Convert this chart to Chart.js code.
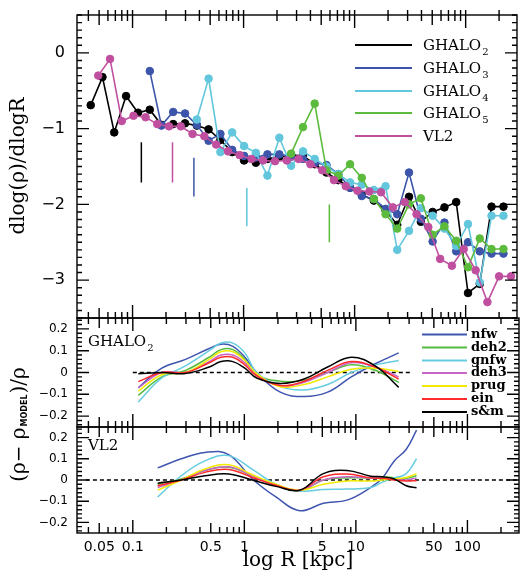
<!DOCTYPE html>
<html>
<head>
<meta charset="utf-8">
<script src="https://cdn.jsdelivr.net/npm/chart.js@4.4.1/dist/chart.umd.min.js"></script>
<style>
  body { margin: 0; background: #fff; }
  #wrap { position: relative; width: 522px; height: 573px; }
  #wrap canvas { position: absolute; left: 0; top: 0; }
</style>
</head>
<body>
<div id="wrap">
  <canvas id="top" width="522" height="573"></canvas>
  <canvas id="mid" width="522" height="573"></canvas>
  <canvas id="bot" width="522" height="573"></canvas>
</div>
<script>
// radial bins (kpc) of the GHALO runs and of VL2
const ghaloR = [0.042, 0.0536, 0.0684, 0.0874, 0.112, 0.143, 0.182, 0.232, 0.297, 0.379, 0.484, 0.618, 0.789, 1.01, 1.29, 1.64, 2.10, 2.68, 3.43, 4.37, 5.58, 7.13, 9.10, 11.6, 14.9, 19.0, 24.2, 30.9, 39.5, 50.4, 64.4, 82.2, 105, 134, 171, 219];
const vl2R = [0.0491, 0.0627, 0.080, 0.102, 0.131, 0.167, 0.213, 0.272, 0.347, 0.443, 0.566, 0.723, 0.923, 1.18, 1.50, 1.92, 2.45, 3.13, 4.00, 5.11, 6.52, 8.33, 10.6, 13.6, 17.3, 22.1, 28.3, 36.1, 46.1, 58.9, 75.2, 96.1, 123, 157, 200, 256];

// logarithmic slopes (top panel)
const ghalo2 = [-0.69, -0.32, -1.05, -0.57, -0.79, -0.75, -0.95, -0.94, -0.93, -0.96, -1.01, -1.15, -1.31, -1.42, -1.45, -1.40, -1.37, -1.35, -1.36, -1.47, -1.58, -1.68, -1.78, -1.87, -1.95, -2.08, -2.27, -1.90, -2.23, -2.10, -2.04, -1.97, -3.17, -3.05, -2.03, -2.03];
const ghalo3 = [-0.24, -0.96, -0.78, -0.80, -0.95, -1.16, -1.07, -1.28, -1.36, -1.38, -1.34, -1.34, -1.37, -1.40, -1.45, -1.48, -1.60, -1.78, -1.89, -1.93, -2.06, -2.13, -1.58, -2.19, -2.49, -2.24, -2.62, -2.50, -2.62, -2.65, -2.65];
const ghalo4 = [-0.88, -0.34, -1.31, -1.05, -1.23, -1.32, -1.62, -1.12, -1.49, -1.30, -1.40, -1.50, -1.60, -1.71, -1.74, -1.81, -1.76, -2.60, -2.35, -2.05, -2.15, -2.32, -2.55, -2.26, -3.03, -2.15, -2.15];
const ghalo5 = [-1.33, -0.98, -0.67, -1.55, -1.62, -1.47, -1.65, -1.93, -2.13, -2.32, -2.00, -1.92, -2.40, -2.29, -2.48, -2.83, -2.45, -2.59, -2.59];
const vl2 = [-0.30, -0.08, -0.90, -0.83, -0.85, -0.94, -0.97, -0.97, -1.07, -1.10, -1.21, -1.30, -1.35, -1.40, -1.42, -1.43, -1.42, -1.40, -1.47, -1.55, -1.68, -1.76, -1.82, -1.83, -1.84, -2.04, -1.97, -2.13, -2.30, -2.72, -2.81, -2.59, -2.87, -3.29, -2.95, -2.95];

const topNames = ['GHALO', 'GHALO', 'GHALO', 'GHALO', 'VL2'];
const topSubs = ['2', '3', '4', '5', ''];
const topColors = ['#000000', '#3c55aa', '#62c6dc', '#5cbb3c', '#c04fa0'];
const topValues = [ghalo2, ghalo3, ghalo4, ghalo5, vl2];
const topGrids = [ghaloR, ghaloR, ghaloR, ghaloR, vl2R];
const topStart = [0, 5, 9, 17, 0];

// vertical marks
const markR = [0.12, 0.229, 0.357, 1.07, 5.92];
const markTop = [-1.18, -1.18, -1.385, -1.785, -2.0];
const markBottom = [-1.71, -1.71, -1.895, -2.29, -2.5];
const markColors = ['#000000', '#c04fa0', '#3c55aa', '#62c6dc', '#5cbb3c'];

// residuals
const resNames = ['nfw', 'deh2', 'gnfw', 'deh3', 'prug', 'ein', 's&m'];
const resColors = ['#3f55b0', '#55bb3f', '#66cce0', '#c766c8', '#f2ea00', '#ff2a2a', '#000000'];

const resR1 = [0.112, 0.182, 0.297, 0.484, 0.618, 0.789, 1.01, 1.29, 2.10, 3.43, 5.58, 9.10, 14.9, 24.2];
const resG2 = [
  [-0.07, 0.02, 0.06, 0.11, 0.13, 0.12, 0.07, 0.0, -0.09, -0.11, -0.09, -0.02, 0.04, 0.09],
  [-0.105, -0.02, 0.01, 0.07, 0.105, 0.105, 0.06, -0.01, -0.04, -0.035, 0.0, 0.035, 0.01, -0.045],
  [-0.135, -0.025, 0.03, 0.10, 0.135, 0.135, 0.09, 0.0, -0.065, -0.08, -0.055, 0.0, 0.035, 0.055],
  [-0.07, 0.0, 0.0, 0.05, 0.08, 0.08, 0.045, -0.01, -0.06, -0.045, 0.0, 0.045, 0.025, -0.02],
  [-0.085, -0.01, 0.0, 0.06, 0.095, 0.095, 0.055, -0.005, -0.065, -0.055, -0.02, 0.015, 0.02, 0.005],
  [-0.042, 0.0, 0.0, 0.045, 0.07, 0.07, 0.035, -0.015, -0.06, -0.04, 0.01, 0.05, 0.025, -0.03],
  [-0.006, 0.0, -0.005, 0.025, 0.05, 0.05, 0.02, -0.025, -0.05, -0.03, 0.025, 0.07, 0.03, -0.068]
];

const resR2 = [0.167, 0.272, 0.443, 0.723, 1.18, 1.92, 3.13, 5.11, 8.33, 13.6, 17.3, 22.1, 28.3, 35.0];
const resVL2 = [
  [0.057, 0.10, 0.13, 0.12, 0.005, -0.08, -0.145, -0.11, -0.095, -0.035, 0.01, 0.09, 0.145, 0.235],
  [-0.02, 0.005, 0.045, 0.06, 0.02, -0.025, -0.05, 0.0, 0.01, 0.01, 0.015, 0.01, 0.008, 0.02],
  [-0.08, 0.02, 0.09, 0.115, 0.05, -0.02, -0.052, -0.045, -0.043, -0.035, -0.01, 0.01, 0.03, 0.10],
  [-0.035, 0.0, 0.045, 0.062, 0.02, -0.025, -0.048, 0.0, 0.015, 0.01, 0.01, 0.005, 0.0, 0.01],
  [-0.048, 0.0, 0.052, 0.072, 0.025, -0.02, -0.048, -0.02, -0.005, -0.005, 0.0, 0.005, 0.012, 0.03],
  [-0.027, 0.0, 0.036, 0.05, 0.012, -0.025, -0.048, 0.015, 0.028, 0.01, 0.008, 0.0, -0.005, -0.003],
  [-0.015, 0.0, 0.02, 0.028, 0.0, -0.03, -0.048, 0.03, 0.045, 0.018, 0.015, 0.005, -0.027, -0.037]
];

const zeroR1 = [0.1, 32];
const zeroR2 = [0.038, 285];

// axes
const xMin = 0.0316, xMax = 290;
const xTickVals = [0.05, 0.1, 0.5, 1, 5, 10, 50, 100];
const topYTicks = [0, -1, -2, -3];
const resYTicks = [0.2, 0.1, 0, -0.1, -0.2];

function pts(xs, ys, from) {
  return ys.map((y, i) => ({ x: xs[i + from], y: y }));
}

function fmtTick(v) {
  if (v === 0) return '0';
  return (v < 0 ? '\u2212' : '') + Math.abs(v);
}

// frame with inward ticks on all four sides
function drawFrame(chart, cfg) {
  const ctx = chart.ctx, a = chart.chartArea;
  const xs = chart.scales.x, ys = chart.scales.y;
  ctx.save();
  ctx.strokeStyle = '#000';
  ctx.lineWidth = 1.4;
  ctx.strokeRect(a.left, a.top, a.right - a.left, a.bottom - a.top);
  ctx.beginPath();
  for (let d = -2; d <= 2; d++) {
    for (let m = 1; m <= 9; m++) {
      const v = m * Math.pow(10, d);
      if (v < xMin || v > xMax) continue;
      const px = xs.getPixelForValue(v);
      const len = m === 1 ? 13 : (m === 5 ? 10 : 6);
      ctx.moveTo(px, a.top - (cfg.topOut ? 5 : 0));
      ctx.lineTo(px, a.top + len);
      ctx.moveTo(px, a.bottom);
      ctx.lineTo(px, a.bottom - len);
    }
  }
  const i0 = Math.ceil(cfg.yMin / cfg.minor - 1e-6), i1 = Math.floor(cfg.yMax / cfg.minor + 1e-6);
  for (let i = i0; i <= i1; i++) {
    const v = i * cfg.minor;
    const py = ys.getPixelForValue(v);
    const r = v / cfg.major;
    const len = Math.abs(r - Math.round(r)) < 1e-6 ? 12 : 5;
    ctx.moveTo(a.left, py);
    ctx.lineTo(a.left + len, py);
    ctx.moveTo(a.right, py);
    ctx.lineTo(a.right - len, py);
  }
  ctx.stroke();
  ctx.restore();
}

function subText(ctx, x, y, main, sub, font, subFont, dy) {
  ctx.font = font;
  ctx.fillText(main, x, y);
  if (sub) {
    const w = ctx.measureText(main).width;
    ctx.font = subFont;
    ctx.fillText(sub, x + w + 1, y + dy);
  }
}

function makeChart(id, cfg) {
  return new Chart(document.getElementById(id), {
    type: 'line',
    data: { datasets: cfg.datasets },
    options: {
      responsive: false,
      animation: false,
      layout: { padding: { left: 0, right: 3, top: cfg.top, bottom: cfg.bottom } },
      plugins: { legend: { display: false }, tooltip: { enabled: false } },
      scales: {
        x: {
          type: 'logarithmic', min: xMin, max: xMax,
          display: cfg.showX,
          grid: { display: false, drawTicks: false }, border: { display: false },
          afterBuildTicks: s => { s.ticks = xTickVals.map(v => ({ value: v })); },
          afterFit: s => {
            s.height = cfg.showX ? 40 : 0;
            s.paddingLeft = 0; s.paddingRight = 0;
          },
          ticks: {
            autoSkip: false, maxRotation: 0, padding: 6, color: '#000',
            font: { family: 'DejaVu Sans', size: 14 },
            callback: v => String(v)
          },
          title: {
            display: true, text: 'log R [kpc]', color: '#000', padding: 0,
            font: { family: 'DejaVu Serif', size: 20 }
          }
        },
        y: {
          min: cfg.yMin, max: cfg.yMax,
          grid: { display: false, drawTicks: false }, border: { display: false },
          afterBuildTicks: s => { s.ticks = cfg.yTicks.map(v => ({ value: v })); },
          afterFit: s => {
            s.width = 77;
            s.paddingTop = 0; s.paddingBottom = 0;
          },
          ticks: {
            autoSkip: false, padding: cfg.yPad, color: '#000',
            font: { family: 'DejaVu Sans', size: cfg.yFont },
            callback: fmtTick
          }
        }
      }
    },
    plugins: [{
      id: 'frame_' + id,
      afterDatasetsDraw(chart) {
        drawFrame(chart, cfg);
        cfg.draw(chart.ctx, chart);
      }
    }]
  });
}

// ---- top panel ----
const topSets = [];
topValues.forEach((vals, i) => {
  topSets.push({
    data: pts(topGrids[i], vals, topStart[i]),
    borderColor: topColors[i], backgroundColor: topColors[i],
    pointBackgroundColor: topColors[i], pointBorderColor: topColors[i],
    borderWidth: 1.6, pointRadius: 3.8, pointBorderWidth: 1,
    tension: 0, order: topValues.length - i
  });
});
markR.forEach((r, i) => {
  topSets.push({
    data: [{ x: r, y: markTop[i] }, { x: r, y: markBottom[i] }],
    borderColor: markColors[i], borderWidth: 1.5, pointRadius: 0, order: 10
  });
});

makeChart('top', {
  datasets: topSets, top: 15, bottom: 573 - 318, yMin: -3.5, yMax: 0.5,
  yTicks: topYTicks, yFont: 16, yPad: 12, minor: 0.1, major: 1, topOut: true, showX: false,
  draw(ctx) {
    ctx.save();
    ctx.fillStyle = '#000';
    ctx.textBaseline = 'middle';
    const rows = [45, 68, 91, 113, 136];
    topNames.forEach((n, i) => {
      ctx.strokeStyle = topColors[i];
      ctx.lineWidth = 2;
      ctx.beginPath();
      ctx.moveTo(355, rows[i]);
      ctx.lineTo(412, rows[i]);
      ctx.stroke();
      subText(ctx, 423, rows[i] + 1, n, topSubs[i], '15px "DejaVu Serif"', '10px "DejaVu Serif"', 6);
    });
    ctx.translate(19, 166);
    ctx.rotate(-Math.PI / 2);
    ctx.textAlign = 'center';
    ctx.font = '20px "DejaVu Serif"';
    ctx.fillText('dlog(\u03c1)/dlogR', 0, 0);
    ctx.restore();
  }
});

// ---- residual panels ----
function resSets(xs, rows, zero) {
  const sets = rows.map((vals, i) => ({
    data: pts(xs, vals, 0),
    borderColor: resColors[i], borderWidth: 1.5, pointRadius: 0,
    tension: 0.4, order: rows.length - i
  }));
  sets.push({
    data: [{ x: zero[0], y: 0 }, { x: zero[1], y: 0 }],
    borderColor: '#000', borderWidth: 1.3, borderDash: [4, 3], pointRadius: 0, order: 20
  });
  return sets;
}

makeChart('mid', {
  datasets: resSets(resR1, resG2, zeroR1), top: 318, bottom: 573 - 427, yMin: -0.25, yMax: 0.25,
  yTicks: resYTicks, yFont: 12, yPad: 9, minor: 0.02, major: 0.1, topOut: false, showX: false,
  draw(ctx) {
    ctx.save();
    ctx.fillStyle = '#000';
    ctx.textBaseline = 'middle';
    const rows = [334.5, 347.5, 360.5, 373, 386, 399, 412];
    resNames.forEach((n, i) => {
      ctx.strokeStyle = resColors[i];
      ctx.lineWidth = 2;
      ctx.beginPath();
      ctx.moveTo(422, rows[i]);
      ctx.lineTo(467, rows[i]);
      ctx.stroke();
      ctx.font = 'bold 13px "DejaVu Serif"';
      ctx.fillText(n, 471, rows[i]);
    });
    subText(ctx, 88, 342, 'GHALO', '2', '15px "DejaVu Serif"', '10px "DejaVu Serif"', 6);
    // y title shared by both residual panels
    ctx.translate(20, 424);
    ctx.rotate(-Math.PI / 2);
    const big = '20px "DejaVu Serif"', small = 'bold 8px "DejaVu Sans"';
    const parts = [['(\u03c1\u2212 \u03c1', big, 0], ['MODEL', small, 5], [')/\u03c1', big, 0]];
    let total = 0;
    parts.forEach(p => { ctx.font = p[1]; total += ctx.measureText(p[0]).width + 1; });
    let x = -total / 2;
    parts.forEach(p => {
      ctx.font = p[1];
      ctx.fillText(p[0], x, p[2]);
      x += ctx.measureText(p[0]).width + 1;
    });
    ctx.restore();
  }
});

makeChart('bot', {
  datasets: resSets(resR2, resVL2, zeroR2), top: 427, bottom: 0, yMin: -0.25, yMax: 0.25,
  yTicks: resYTicks, yFont: 12, yPad: 9, minor: 0.02, major: 0.1, topOut: false, showX: true,
  draw(ctx) {
    ctx.save();
    ctx.fillStyle = '#000';
    ctx.textBaseline = 'middle';
    ctx.font = '15px "DejaVu Serif"';
    ctx.fillText('VL2', 88, 446);
    ctx.restore();
  }
});
</script>
</body>
</html>
